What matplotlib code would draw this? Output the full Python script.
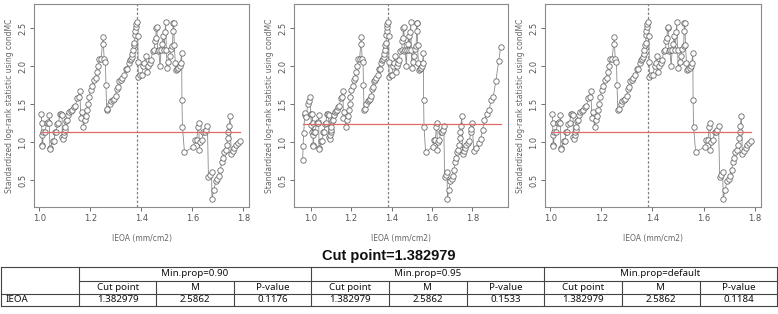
import matplotlib
matplotlib.use("Agg")
import matplotlib.pyplot as plt
import numpy as np

# ---------------- data ----------------
core_x = [1.008, 1.009, 1.010, 1.011, 1.012, 1.016, 1.022, 1.029, 1.035, 1.038, 1.039, 1.041, 1.042,
          1.052, 1.058, 1.061, 1.065, 1.071, 1.075, 1.081, 1.086, 1.089, 1.090, 1.093, 1.095, 1.098,
          1.101, 1.102, 1.105, 1.108, 1.114, 1.118, 1.123, 1.128, 1.135, 1.141, 1.149, 1.154, 1.159,
          1.162, 1.167, 1.173, 1.178, 1.183, 1.188, 1.192, 1.196, 1.201, 1.208, 1.214, 1.221, 1.225,
          1.229, 1.235, 1.242, 1.250, 1.251, 1.254, 1.259, 1.261, 1.264, 1.267, 1.276, 1.282, 1.289,
          1.294, 1.299, 1.303, 1.307, 1.312, 1.319, 1.325, 1.332, 1.340, 1.345, 1.350, 1.354, 1.358,
          1.362, 1.365, 1.367, 1.370, 1.373, 1.375, 1.376, 1.379, 1.380, 1.382979, 1.386, 1.387, 1.388,
          1.395, 1.401, 1.408, 1.412, 1.417, 1.422, 1.427, 1.433, 1.438, 1.444, 1.450, 1.454, 1.456,
          1.459, 1.461, 1.464, 1.468, 1.473, 1.477, 1.481, 1.485, 1.489, 1.493, 1.495, 1.498, 1.501,
          1.506, 1.511, 1.516, 1.522, 1.524, 1.525, 1.527, 1.529, 1.533, 1.536, 1.540, 1.545, 1.550,
          1.554, 1.558, 1.559, 1.561, 1.569, 1.604, 1.610, 1.617, 1.622, 1.625, 1.627, 1.631, 1.637,
          1.643, 1.648, 1.654, 1.659, 1.663, 1.669, 1.675, 1.677, 1.684, 1.692, 1.698, 1.705, 1.710,
          1.715, 1.720, 1.725, 1.731, 1.735, 1.739, 1.741, 1.744, 1.748, 1.752, 1.758, 1.765, 1.771,
          1.778, 1.786]
core_y = [1.37, 1.25, 1.10, 0.96, 0.95, 1.13, 1.14, 1.26, 1.27, 1.25, 1.36, 0.93, 0.91,
          1.02, 1.02, 1.13, 1.13, 1.24, 1.26, 1.37, 1.37, 1.36, 1.07, 1.05, 1.10, 1.13,
          1.16, 1.20, 1.28, 1.29, 1.36, 1.40, 1.41, 1.42, 1.46, 1.48, 1.58, 1.60, 1.68,
          1.32, 1.40, 1.20, 1.30, 1.35, 1.43, 1.50, 1.59, 1.69, 1.74, 1.82, 1.85, 1.93,
          2.00, 2.09, 2.10, 2.38, 2.30, 2.10, 2.06, 1.76, 1.42, 1.44, 1.51, 1.54, 1.56,
          1.57, 1.61, 1.70, 1.73, 1.81, 1.82, 1.85, 1.88, 1.97, 1.97, 2.04, 2.08, 2.10,
          2.12, 2.16, 2.22, 2.28, 2.31, 2.41, 2.46, 2.52, 2.56, 2.5862, 2.40, 2.06, 1.86,
          1.88, 1.88, 2.00, 2.05, 2.14, 1.92, 2.00, 2.05, 2.08, 2.20, 2.22, 2.33, 2.37,
          2.50, 2.52, 2.20, 2.22, 2.00, 2.22, 2.30, 2.40, 2.22, 2.45, 2.58, 2.22, 1.98,
          2.06, 2.14, 2.23, 2.27, 2.47, 2.57, 2.57, 2.28, 2.05, 1.95, 1.96, 1.98, 2.00,
          2.05, 2.18, 1.56, 1.20, 0.87, 0.94, 1.03, 1.03, 1.20, 1.26, 0.90, 1.00, 1.03,
          1.13, 1.14, 1.16, 1.22, 0.54, 0.57, 0.61, 0.26, 0.37, 0.49, 0.52, 0.56, 0.64,
          0.74, 0.80, 0.87, 0.90, 0.97, 1.06, 1.13, 1.22, 1.34, 0.85, 0.88, 0.93, 0.96,
          0.99, 1.02]

# extra cut points that appear only with Min.prop=0.95
left_x = [0.960, 0.962, 0.965, 0.970, 0.973, 0.978, 0.985, 0.990, 0.995, 1.000, 1.003, 1.005]
left_y = [0.77, 0.95, 1.12, 1.36, 1.38, 1.33, 1.50, 1.55, 1.60, 1.37, 1.23, 1.13]
right_x = [1.792, 1.796, 1.800, 1.807, 1.818, 1.832, 1.842, 1.851, 1.860, 1.871, 1.884,
           1.894, 1.904, 1.917, 1.931, 1.941]
right_y = [1.13, 1.17, 1.25, 0.88, 0.92, 0.99, 1.05, 1.16, 1.30, 1.37, 1.43,
           1.56, 1.60, 1.81, 2.07, 2.26]

cut_point = 1.382979
crit_values = [1.13, 1.245, 1.135]   # red reference lines per panel

title_text = "Cut point=1.382979"
group_labels = ["Min.prop=0.90", "Min.prop=0.95", "Min.prop=default"]
sub_labels = ["Cut point", "M", "P-value"]
row_label = "IEOA"
row_values = [["1.382979", "2.5862", "0.1176"],
              ["1.382979", "2.5862", "0.1533"],
              ["1.382979", "2.5862", "0.1184"]]

x_ticks = [1.0, 1.2, 1.4, 1.6, 1.8]
y_ticks = [0.5, 1.0, 1.5, 2.0, 2.5]
xlabel = "IEOA (mm/cm2)"
ylabel = "Standardized log-rank statistic using condMC"

# ---------------- figure ----------------
W, H = 778, 314
fig = plt.figure(figsize=(W / 100, H / 100), dpi=100)
fig.patch.set_facecolor("white")

panels = [
    (list(core_x), list(core_y), (34, 249), (0.979, 1.822)),
    (left_x + core_x + right_x, left_y + core_y + right_y, (294, 508), (0.917, 1.977)),
    (list(core_x), list(core_y), (545, 761), (0.979, 1.825)),
]
top_px, bot_px = 4, 207
gray = "#8a8a8a"
for i, (xs, ys, (lpx, rpx), xlim) in enumerate(panels):
    ax = fig.add_axes([lpx / W, 1 - bot_px / H, (rpx - lpx) / W, (bot_px - top_px) / H])
    ax.plot(xs, ys, color="#8a8a8a", lw=0.6, zorder=2)
    ax.plot(xs, ys, ls="none", marker="o", ms=3.9, mfc="white", mec="#6a6a6a", mew=0.6, zorder=3)
    ax.plot([min(xs), max(xs)], [crit_values[i]] * 2, color="#e06a6a", lw=0.9, zorder=4)
    ax.axvline(cut_point, color="#808080", lw=0.9, ls=(0, (2, 1.5)), zorder=1)
    ax.set_xlim(*xlim)
    ax.set_ylim(0.149, 2.82)
    ax.set_xticks(x_ticks)
    ax.set_xticklabels([f"{t:.1f}" for t in x_ticks])
    ax.set_yticks(y_ticks)
    ax.set_yticklabels([f"{t:.1f}" for t in y_ticks], rotation=90, va="center")
    ax.tick_params(labelsize=6, colors="#555555", length=3, width=0.6, pad=2)
    for s in ax.spines.values():
        s.set_color(gray)
        s.set_linewidth(0.8)
    ax.set_ylabel(ylabel, fontsize=5.5, color="#666666", labelpad=3)
    ax.set_xlabel(xlabel, fontsize=5.5, color="#666666", labelpad=8)

# ---------------- title and table ----------------
ov = fig.add_axes([0, 0, 1, 1])
ov.set_xlim(0, W)
ov.set_ylim(H, 0)
ov.axis("off")

ov.text(389, 256, title_text, ha="center", va="center", fontsize=10.5, fontweight="bold",
        family="Liberation Sans", color="#111111")

col_edges = [1, 79, 156.5, 234, 311, 389, 467, 544, 622, 700, 777]
row_edges = [267, 281, 294, 306]
lc = "#444444"
tw = 0.8
ov.plot([col_edges[0], col_edges[-1]], [row_edges[0]] * 2, color=lc, lw=tw)
ov.plot([col_edges[1], col_edges[-1]], [row_edges[1]] * 2, color=lc, lw=tw)
ov.plot([col_edges[0], col_edges[-1]], [row_edges[2]] * 2, color=lc, lw=tw)
ov.plot([col_edges[0], col_edges[-1]], [row_edges[3]] * 2, color=lc, lw=tw)
for j, cx in enumerate(col_edges):
    if j in (0, 1, 4, 7, 10):
        ov.plot([cx, cx], [row_edges[0], row_edges[3]], color=lc, lw=tw)
    else:
        ov.plot([cx, cx], [row_edges[1], row_edges[3]], color=lc, lw=tw)

fs = 7
tf = "Noto Sans"
for g, lab in enumerate(group_labels):
    x0, x1 = col_edges[1 + 3 * g], col_edges[4 + 3 * g]
    ov.text((x0 + x1) / 2, (row_edges[0] + row_edges[1]) / 2, lab, ha="center", va="center",
            fontsize=fs, family=tf, color="#111111")
    for k, sl in enumerate(sub_labels):
        a, b = col_edges[1 + 3 * g + k], col_edges[2 + 3 * g + k]
        ov.text((a + b) / 2, (row_edges[1] + row_edges[2]) / 2, sl, ha="center", va="center",
                fontsize=fs, family=tf, color="#111111")
        ov.text((a + b) / 2, (row_edges[2] + row_edges[3]) / 2, row_values[g][k], ha="center",
                va="center", fontsize=fs, family=tf, color="#111111")
ov.text(6, (row_edges[2] + row_edges[3]) / 2, row_label, ha="left", va="center",
        fontsize=fs, family=tf, color="#111111")

fig.savefig("out.png", dpi=100)
